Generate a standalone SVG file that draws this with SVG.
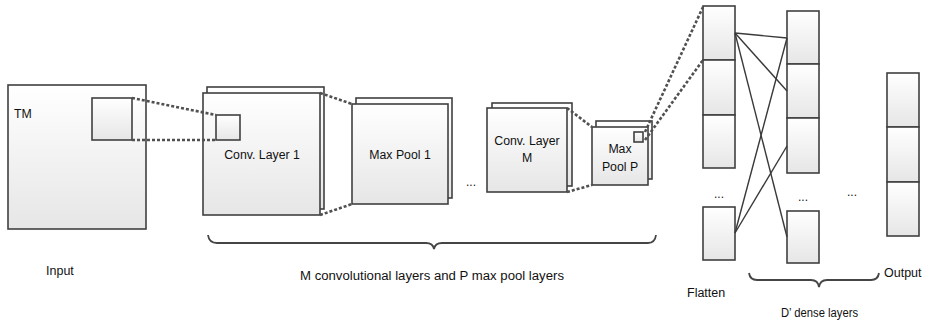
<svg xmlns="http://www.w3.org/2000/svg" width="930" height="322" viewBox="0 0 930 322">
<defs>
<linearGradient id="g" x1="0" y1="0" x2="0" y2="1">
<stop offset="0" stop-color="#ffffff"/>
<stop offset="1" stop-color="#e6e6e6"/>
</linearGradient>
</defs>
<style>
.box{fill:url(#g);stroke:#404040;stroke-width:1.6}
.dot{fill:none;stroke:#505050;stroke-width:2.6;stroke-dasharray:3 2}
.ln{fill:none;stroke:#3a3a3a;stroke-width:1.4}
.br{fill:none;stroke:#454545;stroke-width:1.8}
text{font-family:"Liberation Sans",Arial,sans-serif;fill:#111111}
.t{font-size:12.3px;text-anchor:middle}
.b{font-size:12.5px}
</style>
<rect width="930" height="322" fill="#ffffff"/>
<g id="input">
<rect class="box" x="8" y="85" width="138" height="144"/>
<rect class="box" x="92" y="98" width="40" height="42"/>
<text x="14" y="118" style="font-size:12.3px">TM</text>
</g>
<g id="conv1">
<rect class="box" x="207" y="87" width="117" height="122"/>
<rect class="box" x="203" y="93" width="117" height="122"/>
<rect class="box" x="216" y="115" width="24" height="25"/>
<text class="t" x="262" y="159">Conv. Layer 1</text>
</g>
<g id="maxpool1">
<rect class="box" x="356" y="98" width="96" height="100"/>
<rect class="box" x="352" y="104" width="96" height="100"/>
<text class="t" x="400" y="159">Max Pool 1</text>
</g>
<g id="convM">
<rect class="box" x="492" y="103" width="80" height="83"/>
<rect class="box" x="487" y="108" width="80" height="84"/>
<text class="t" x="527" y="145">Conv. Layer</text>
<text class="t" x="527" y="162">M</text>
</g>
<g id="maxpoolP">
<rect class="box" x="596" y="121" width="56" height="58"/>
<rect class="box" x="592" y="127" width="56" height="58"/>
<rect class="box" x="634" y="132" width="9" height="10"/>
<text class="t" x="620" y="153">Max</text>
<text class="t" x="620" y="171">Pool P</text>
</g>
<g id="flatten">
<rect class="box" x="703" y="6" width="32" height="54"/>
<rect class="box" x="703" y="60" width="32" height="55"/>
<rect class="box" x="703" y="115" width="32" height="53"/>
<rect class="box" x="703" y="207" width="32" height="53"/>
</g>
<g id="dense">
<rect class="box" x="787" y="11" width="32" height="53"/>
<rect class="box" x="787" y="64" width="32" height="54"/>
<rect class="box" x="787" y="118" width="32" height="55"/>
<rect class="box" x="787" y="211" width="32" height="52"/>
</g>
<g id="output">
<rect class="box" x="887" y="73" width="32" height="54"/>
<rect class="box" x="887" y="127" width="32" height="55"/>
<rect class="box" x="887" y="182" width="32" height="54"/>
</g>
<g id="ellipses" style="font-size:12px">
<text x="466" y="186">...</text>
<text x="714" y="198">...</text>
<text x="798" y="201">...</text>
<text x="847" y="196">...</text>
</g>
<g id="connectors">
<line class="dot" x1="132" y1="98" x2="216" y2="115"/>
<line class="dot" x1="132" y1="140" x2="216" y2="140"/>
<line class="dot" x1="320" y1="93" x2="352" y2="104"/>
<line class="dot" x1="320" y1="215" x2="352" y2="204"/>
<line class="dot" x1="567" y1="108" x2="592" y2="127"/>
<line class="dot" x1="567" y1="192" x2="592" y2="185"/>
<line class="dot" x1="645" y1="132" x2="703" y2="7"/>
<line class="dot" x1="645" y1="140" x2="703" y2="60"/>
<line class="ln" x1="735" y1="33" x2="787" y2="38"/>
<line class="ln" x1="735" y1="33" x2="787" y2="91"/>
<line class="ln" x1="735" y1="33" x2="787" y2="237"/>
<line class="ln" x1="735" y1="233" x2="787" y2="38"/>
<line class="ln" x1="735" y1="233" x2="787" y2="146"/>
<path class="br" d="M208,235 Q209,243 217,243 L426,243 Q433,243 434,249 Q435,243 442,243 L648,243 Q655,243 656,235"/>
<path class="br" d="M749,273 Q750,280 757,280 L811,280 Q818,280 819,287 Q820,280 827,280 L871,280 Q878,280 879,273"/>
</g>
<g id="labels" class="b">
<text x="46" y="275">Input</text>
<text x="300" y="280" textLength="264" lengthAdjust="spacingAndGlyphs">M convolutional layers and P max pool layers</text>
<text x="687" y="297">Flatten</text>
<text x="781" y="317" textLength="77" lengthAdjust="spacingAndGlyphs">D’ dense layers</text>
<text x="884" y="277">Output</text>
</g>
</svg>
